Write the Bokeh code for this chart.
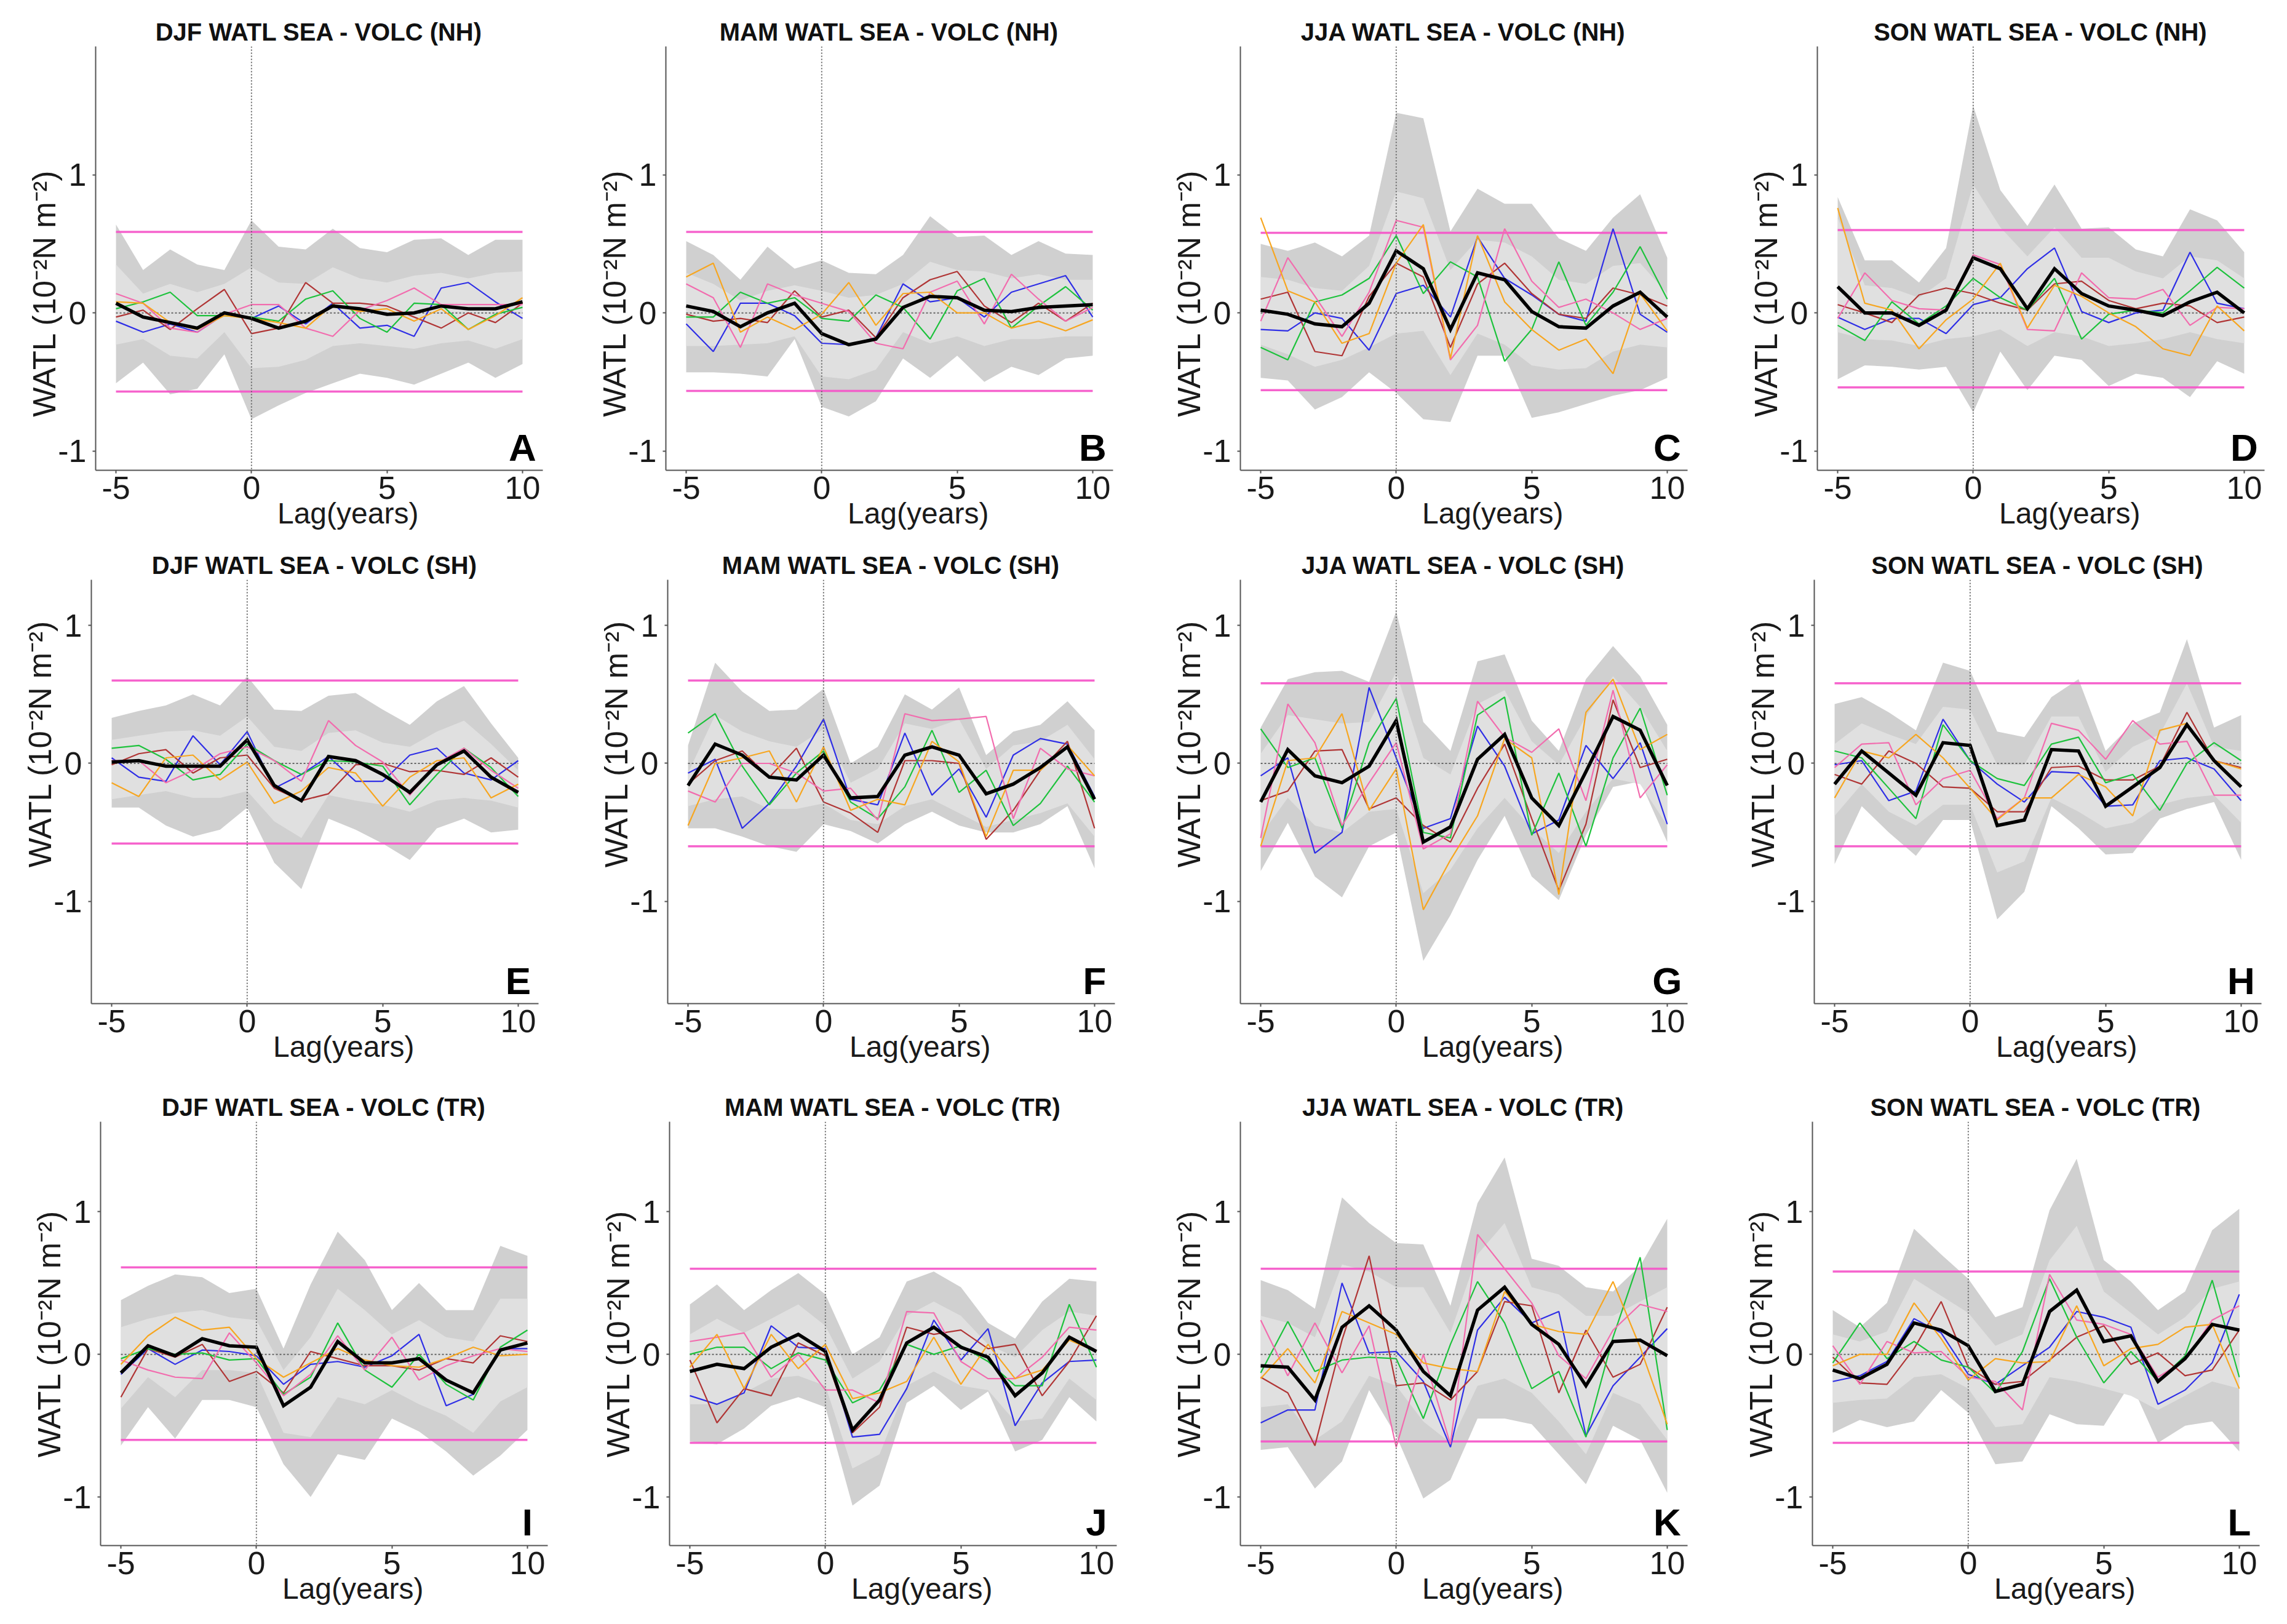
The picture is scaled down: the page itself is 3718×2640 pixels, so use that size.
from bokeh.plotting import figure
from bokeh.layouts import column, row
from bokeh.models import Span, Label, Range1d, FixedTicker
from bokeh.embed import file_html
from bokeh.resources import INLINE

LAGS = list(range(-5, 11))
X_TICKS = [-5, 0, 5, 10]
Y_TICKS = [-1, 0, 1]
X_TICK_LABELS = {-5: "-5", 0: "0", 5: "5", 10: "10"}
Y_TICK_LABELS = {-1: "-1", 0: "0", 1: "1"}
X_LABEL = "Lag(years)"
Y_LABEL = "WATL (10\u207b\u00b2N m\u207b\u00b2)"
X_LABEL_AT = 3.5     # lag under which the x title is centred in the original
Y_LABEL_AT = 0.14    # value beside which the y title is centred in the original

TITLES = ["DJF WATL SEA - VOLC (NH)", "MAM WATL SEA - VOLC (NH)", "JJA WATL SEA - VOLC (NH)", "SON WATL SEA - VOLC (NH)",
          "DJF WATL SEA - VOLC (SH)", "MAM WATL SEA - VOLC (SH)", "JJA WATL SEA - VOLC (SH)", "SON WATL SEA - VOLC (SH)",
          "DJF WATL SEA - VOLC (TR)", "MAM WATL SEA - VOLC (TR)", "JJA WATL SEA - VOLC (TR)", "SON WATL SEA - VOLC (TR)"]
LETTERS = ["A", "B", "C", "D", "E", "F", "G", "H", "I", "J", "K", "L"]
ROW_YRANGES = [(-1.14, 1.93), (-1.74, 1.33), (-1.34, 1.63)]

# ---------------- Panel A ----------------
A_OUT_HI = [0.64, 0.31, 0.46, 0.35, 0.31, 0.67, 0.48, 0.46, 0.61, 0.47, 0.44, 0.53, 0.54, 0.42, 0.53, 0.53]
A_IN_HI = [0.35, 0.14, 0.21, 0.15, 0.21, 0.33, 0.22, 0.21, 0.33, 0.25, 0.22, 0.27, 0.29, 0.25, 0.29, 0.30]
A_IN_LO = [-0.23, -0.19, -0.31, -0.33, -0.14, -0.40, -0.39, -0.34, -0.24, -0.22, -0.24, -0.26, -0.22, -0.20, -0.26, -0.19]
A_OUT_LO = [-0.51, -0.36, -0.59, -0.55, -0.30, -0.77, -0.67, -0.58, -0.51, -0.44, -0.47, -0.52, -0.44, -0.36, -0.47, -0.37]
A_MEAN = [0.07, -0.03, -0.07, -0.11, 0.0, -0.04, -0.11, -0.06, 0.05, 0.03, -0.01, 0.0, 0.05, 0.03, 0.03, 0.08]
A_BLUE = [-0.06, -0.14, -0.08, -0.14, -0.01, -0.04, 0.05, -0.08, 0.07, -0.11, -0.09, -0.17, 0.18, 0.22, 0.08, -0.04]
A_RED = [-0.03, 0.02, -0.12, 0.03, 0.17, -0.15, -0.11, 0.22, 0.07, 0.07, 0.05, -0.03, -0.11, 0.0, -0.07, 0.07]
A_GREEN = [0.03, 0.08, 0.15, -0.02, -0.02, -0.03, -0.06, 0.10, 0.16, -0.04, -0.14, 0.07, 0.06, -0.12, -0.01, 0.04]
A_PINK = [0.14, 0.07, -0.11, -0.14, -0.01, 0.06, 0.06, -0.11, -0.17, 0.02, 0.09, 0.18, 0.06, 0.06, 0.06, 0.06]
A_ORANGE = [0.08, 0.07, -0.07, -0.12, -0.02, -0.04, -0.07, -0.11, 0.06, 0.01, 0.03, -0.06, 0.03, -0.12, -0.02, 0.11]
A_THR = [0.587, -0.57]

# ---------------- Panel B ----------------
B_OUT_HI = [0.52, 0.42, 0.24, 0.48, 0.32, 0.38, 0.29, 0.28, 0.42, 0.70, 0.55, 0.56, 0.42, 0.52, 0.43, 0.42]
B_IN_HI = [0.29, 0.21, 0.09, 0.16, 0.20, 0.16, 0.11, 0.13, 0.21, 0.37, 0.31, 0.30, 0.25, 0.28, 0.24, 0.24]
B_IN_LO = [-0.24, -0.24, -0.23, -0.22, -0.17, -0.46, -0.48, -0.41, -0.14, -0.22, -0.17, -0.24, -0.19, -0.19, -0.17, -0.17]
B_OUT_LO = [-0.43, -0.43, -0.44, -0.46, -0.19, -0.68, -0.75, -0.64, -0.33, -0.47, -0.31, -0.50, -0.39, -0.45, -0.33, -0.31]
B_MEAN = [0.05, 0.01, -0.10, 0.0, 0.07, -0.15, -0.23, -0.19, 0.04, 0.12, 0.11, 0.02, 0.01, 0.04, 0.05, 0.06]
B_BLUE = [-0.08, -0.28, 0.07, 0.07, -0.02, -0.22, -0.23, -0.18, 0.21, 0.08, 0.11, -0.03, 0.15, 0.21, 0.27, -0.03]
B_RED = [-0.01, -0.06, -0.04, -0.07, 0.16, -0.03, 0.02, -0.18, 0.11, 0.24, 0.30, 0.05, -0.07, 0.07, -0.06, 0.07]
B_GREEN = [-0.03, -0.03, 0.15, 0.07, 0.11, -0.04, -0.06, 0.13, 0.04, -0.19, 0.16, 0.25, -0.11, 0.05, 0.19, 0.02]
B_PINK = [0.21, 0.11, -0.25, 0.21, 0.13, 0.07, 0.01, -0.22, -0.26, 0.15, 0.23, -0.08, 0.28, 0.10, -0.06, 0.04]
B_ORANGE = [0.26, 0.36, -0.14, -0.03, -0.12, -0.01, 0.22, -0.09, 0.14, 0.15, 0.0, 0.0, -0.11, -0.06, -0.13, -0.05]
B_THR = [0.587, -0.565]

# ---------------- Panel C ----------------
C_OUT_HI = [0.50, 0.45, 0.51, 0.41, 0.56, 1.45, 1.41, 0.59, 0.90, 0.79, 0.79, 0.54, 0.45, 0.69, 0.86, 0.40]
C_IN_HI = [0.26, 0.24, 0.18, 0.16, 0.34, 0.88, 0.83, 0.31, 0.53, 0.51, 0.41, 0.24, 0.21, 0.34, 0.36, 0.14]
C_IN_LO = [-0.23, -0.30, -0.39, -0.34, -0.25, -0.15, -0.13, -0.45, -0.15, -0.23, -0.38, -0.41, -0.40, -0.28, -0.23, -0.25]
C_OUT_LO = [-0.47, -0.49, -0.70, -0.61, -0.43, -0.58, -0.77, -0.79, -0.31, -0.31, -0.76, -0.72, -0.66, -0.60, -0.56, -0.47]
C_MEAN = [0.02, -0.01, -0.08, -0.10, 0.07, 0.45, 0.32, -0.12, 0.29, 0.24, 0.01, -0.10, -0.11, 0.05, 0.15, -0.03]
C_BLUE = [-0.12, -0.13, 0.0, -0.04, -0.27, 0.14, 0.20, -0.03, 0.55, 0.25, 0.13, -0.01, -0.06, 0.61, -0.01, -0.14]
C_RED = [0.10, 0.15, -0.28, -0.31, 0.12, 0.36, 0.26, -0.25, 0.21, 0.36, 0.14, -0.01, -0.04, 0.18, 0.13, 0.05]
C_GREEN = [-0.25, -0.34, 0.08, 0.13, 0.25, 0.56, 0.14, 0.37, 0.26, -0.35, -0.12, 0.37, -0.09, 0.15, 0.48, 0.10]
C_PINK = [-0.06, 0.40, 0.12, -0.17, 0.15, 0.67, 0.62, -0.34, -0.09, 0.61, 0.23, 0.04, 0.10, 0.0, -0.12, -0.04]
C_ORANGE = [0.69, 0.16, 0.08, -0.22, -0.15, 0.36, 0.64, -0.33, 0.56, 0.08, -0.12, -0.27, -0.19, -0.44, 0.14, -0.13]
C_THR = [0.58, -0.56]

# ---------------- Panel D ----------------
D_OUT_HI = [0.84, 0.38, 0.38, 0.22, 0.47, 1.50, 0.89, 0.63, 0.93, 0.61, 0.62, 0.46, 0.41, 0.75, 0.67, 0.44]
D_IN_HI = [0.69, 0.20, 0.18, 0.11, 0.25, 0.93, 0.62, 0.41, 0.62, 0.40, 0.40, 0.30, 0.25, 0.41, 0.38, 0.25]
D_IN_LO = [-0.14, -0.19, -0.20, -0.24, -0.19, -0.17, -0.12, -0.24, -0.14, -0.17, -0.24, -0.22, -0.19, -0.14, -0.19, -0.22]
D_OUT_LO = [-0.48, -0.38, -0.39, -0.41, -0.39, -0.72, -0.28, -0.56, -0.31, -0.34, -0.53, -0.44, -0.47, -0.61, -0.35, -0.44]
D_MEAN = [0.19, 0.0, 0.0, -0.09, 0.02, 0.40, 0.32, 0.03, 0.32, 0.14, 0.05, 0.02, -0.02, 0.08, 0.15, 0.0]
D_BLUE = [-0.03, -0.12, -0.04, -0.04, -0.15, 0.06, 0.11, 0.32, 0.47, 0.01, -0.07, 0.0, 0.02, 0.44, 0.07, 0.03]
D_RED = [0.06, 0.0, -0.07, 0.13, 0.18, 0.14, 0.07, 0.02, 0.21, 0.23, 0.09, 0.03, 0.07, 0.05, -0.07, -0.03]
D_GREEN = [-0.09, -0.20, 0.08, -0.08, 0.05, 0.25, 0.11, 0.02, 0.25, -0.19, -0.01, 0.02, 0.0, 0.16, 0.33, 0.18]
D_PINK = [-0.04, 0.29, 0.09, 0.03, 0.02, 0.42, 0.35, -0.12, -0.13, 0.29, 0.11, 0.10, 0.17, -0.09, 0.04, 0.03]
D_ORANGE = [0.76, 0.07, 0.02, -0.26, -0.05, 0.10, 0.36, -0.11, 0.20, 0.12, 0.0, -0.10, -0.26, -0.31, 0.05, -0.13]
D_THR = [0.60, -0.54]

# ---------------- Panel E ----------------
E_OUT_HI = [0.33, 0.38, 0.42, 0.50, 0.42, 0.63, 0.39, 0.38, 0.49, 0.51, 0.39, 0.28, 0.45, 0.56, 0.29, 0.04]
E_IN_HI = [0.17, 0.20, 0.23, 0.24, 0.20, 0.34, 0.12, 0.09, 0.22, 0.24, 0.15, 0.12, 0.23, 0.31, 0.14, -0.05]
E_IN_LO = [-0.26, -0.23, -0.20, -0.25, -0.25, -0.20, -0.42, -0.54, -0.23, -0.27, -0.30, -0.35, -0.27, -0.25, -0.27, -0.32]
E_OUT_LO = [-0.32, -0.32, -0.45, -0.53, -0.48, -0.32, -0.72, -0.91, -0.40, -0.48, -0.58, -0.70, -0.47, -0.40, -0.50, -0.48]
E_MEAN = [0.01, 0.02, -0.02, -0.02, -0.02, 0.17, -0.16, -0.27, 0.05, 0.02, -0.08, -0.21, -0.01, 0.09, -0.10, -0.21]
E_BLUE = [0.04, -0.10, -0.13, 0.20, -0.01, 0.23, -0.18, -0.08, 0.05, -0.13, -0.13, 0.06, 0.11, -0.07, -0.12, 0.02]
E_RED = [-0.01, 0.07, 0.10, -0.07, 0.04, 0.06, -0.18, -0.27, -0.22, -0.01, 0.0, -0.06, -0.05, -0.08, 0.04, -0.10]
E_GREEN = [0.11, 0.13, 0.03, -0.12, -0.08, 0.14, 0.02, -0.08, 0.02, 0.01, -0.02, -0.30, -0.08, 0.11, -0.03, -0.24]
E_PINK = [0.02, 0.02, -0.14, -0.05, 0.07, 0.12, 0.02, -0.13, 0.31, 0.13, 0.01, -0.23, 0.0, 0.11, -0.05, -0.18]
E_ORANGE = [-0.14, -0.24, 0.04, 0.06, -0.12, 0.01, -0.29, -0.20, -0.03, -0.07, -0.31, -0.10, 0.02, 0.04, -0.25, -0.15]
E_THR = [0.60, -0.58]

# ---------------- Panel F ----------------
F_OUT_HI = [0.13, 0.73, 0.52, 0.38, 0.39, 0.54, 0.0, 0.12, 0.50, 0.39, 0.55, 0.06, 0.23, 0.28, 0.45, 0.24]
F_IN_HI = [-0.07, 0.35, 0.23, 0.16, 0.12, 0.25, -0.14, -0.04, 0.29, 0.25, 0.32, -0.04, 0.13, 0.16, 0.28, 0.03]
F_IN_LO = [-0.31, -0.26, -0.24, -0.33, -0.33, -0.29, -0.41, -0.44, -0.31, -0.26, -0.36, -0.46, -0.41, -0.36, -0.29, -0.53]
F_OUT_LO = [-0.47, -0.47, -0.53, -0.60, -0.64, -0.44, -0.49, -0.58, -0.44, -0.35, -0.45, -0.50, -0.50, -0.44, -0.31, -0.76]
F_MEAN = [-0.16, 0.14, 0.06, -0.10, -0.12, 0.06, -0.25, -0.24, 0.06, 0.12, 0.06, -0.22, -0.15, -0.03, 0.12, -0.26]
F_BLUE = [-0.07, 0.03, -0.47, -0.29, -0.02, 0.32, -0.26, -0.30, 0.22, -0.23, -0.04, -0.39, 0.06, 0.18, 0.14, -0.24]
F_RED = [-0.15, 0.02, 0.09, -0.10, 0.11, -0.28, -0.36, -0.50, 0.02, 0.02, 0.0, -0.55, -0.34, -0.05, 0.16, -0.47]
F_GREEN = [0.22, 0.36, -0.02, -0.30, -0.07, 0.09, -0.28, -0.40, -0.17, 0.24, -0.21, -0.05, -0.45, -0.29, -0.02, -0.28]
F_PINK = [-0.20, -0.28, 0.0, 0.0, -0.07, -0.20, -0.18, -0.41, 0.36, 0.31, 0.32, 0.34, -0.40, 0.11, -0.04, -0.09]
F_ORANGE = [-0.45, 0.0, 0.04, 0.09, -0.28, 0.12, -0.34, -0.26, -0.30, 0.16, 0.01, -0.53, -0.05, -0.05, 0.13, -0.09]
F_THR = [0.60, -0.60]

# ---------------- Panel G ----------------
G_OUT_HI = [0.26, 0.61, 0.66, 0.67, 0.59, 1.10, 0.30, 0.09, 0.74, 0.79, 0.31, 0.09, 0.61, 0.85, 0.63, 0.28]
G_IN_HI = [0.07, 0.35, 0.32, 0.29, 0.30, 0.66, 0.04, -0.08, 0.43, 0.53, 0.16, -0.01, 0.34, 0.63, 0.41, 0.09]
G_IN_LO = [-0.52, -0.25, -0.45, -0.50, -0.35, -0.33, -0.94, -0.77, -0.47, -0.25, -0.47, -0.65, -0.35, -0.11, -0.15, -0.45]
G_OUT_LO = [-0.78, -0.43, -0.82, -0.97, -0.60, -0.50, -1.43, -1.10, -0.70, -0.38, -0.82, -0.99, -0.52, -0.17, -0.13, -0.57]
G_MEAN = [-0.28, 0.10, -0.09, -0.14, -0.02, 0.31, -0.57, -0.46, 0.03, 0.21, -0.25, -0.45, -0.06, 0.34, 0.24, -0.16]
G_BLUE = [-0.09, 0.04, -0.65, -0.50, 0.55, 0.04, -0.47, -0.40, 0.27, -0.02, -0.51, -0.41, 0.13, -0.11, 0.15, -0.44]
G_RED = [-0.27, -0.20, 0.09, 0.10, -0.33, -0.25, -0.45, -0.57, -0.18, 0.14, -0.40, -0.92, -0.44, 0.46, -0.03, 0.03]
G_GREEN = [0.25, -0.03, 0.04, -0.47, 0.15, 0.47, -0.50, -0.54, 0.35, 0.48, -0.52, -0.07, -0.60, 0.04, 0.40, -0.23]
G_PINK = [-0.54, 0.43, 0.15, -0.45, -0.14, 0.15, -0.62, -0.51, 0.45, 0.19, 0.08, 0.25, -0.27, 0.53, -0.25, -0.01]
G_ORANGE = [-0.60, 0.02, 0.04, 0.36, -0.34, -0.04, -1.06, -0.70, -0.38, 0.18, 0.04, -0.95, 0.37, 0.61, 0.10, 0.21]
G_THR = [0.58, -0.60]

# ---------------- Panel H ----------------
H_OUT_HI = [0.43, 0.48, 0.37, 0.24, 0.73, 0.67, 0.23, 0.19, 0.48, 0.61, 0.09, 0.29, 0.37, 0.90, 0.26, 0.35]
H_IN_HI = [0.14, 0.29, 0.21, 0.14, 0.41, 0.39, -0.01, -0.01, 0.34, 0.34, -0.06, 0.12, 0.21, 0.58, 0.12, 0.09]
H_IN_LO = [-0.38, -0.15, -0.35, -0.45, -0.30, -0.30, -0.79, -0.71, -0.25, -0.35, -0.47, -0.43, -0.30, -0.25, -0.23, -0.43]
H_OUT_LO = [-0.73, -0.31, -0.50, -0.67, -0.41, -0.41, -1.13, -0.93, -0.31, -0.47, -0.66, -0.65, -0.40, -0.33, -0.28, -0.70]
H_MEAN = [-0.15, 0.09, -0.07, -0.23, 0.15, 0.13, -0.45, -0.41, 0.10, 0.09, -0.31, -0.17, -0.03, 0.28, 0.02, -0.17]
H_BLUE = [-0.01, 0.02, -0.27, -0.20, 0.32, 0.02, -0.15, -0.28, -0.06, -0.07, -0.31, -0.30, 0.02, 0.04, -0.04, -0.27]
H_RED = [-0.08, -0.15, 0.09, 0.0, -0.17, -0.18, -0.35, -0.35, -0.03, -0.02, -0.12, -0.12, -0.02, 0.37, 0.02, -0.03]
H_GREEN = [0.09, 0.04, -0.18, -0.40, 0.28, 0.02, -0.11, -0.16, 0.14, 0.19, -0.14, -0.08, -0.34, 0.0, 0.15, 0.02]
H_PINK = [-0.03, 0.14, 0.15, -0.30, -0.11, -0.05, -0.40, -0.25, 0.29, 0.24, 0.03, 0.31, 0.14, 0.16, -0.23, -0.23]
H_ORANGE = [-0.25, 0.09, 0.04, 0.21, 0.04, -0.18, -0.41, -0.25, -0.25, -0.08, -0.17, -0.38, 0.24, 0.29, 0.02, -0.04]
H_THR = [0.58, -0.60]

# ---------------- Panel I ----------------
I_OUT_HI = [0.38, 0.48, 0.56, 0.54, 0.43, 0.46, 0.04, 0.49, 0.86, 0.66, 0.31, 0.50, 0.31, 0.31, 0.76, 0.69]
I_IN_HI = [0.19, 0.25, 0.29, 0.31, 0.26, 0.24, -0.11, 0.12, 0.46, 0.31, 0.14, 0.24, 0.12, 0.09, 0.39, 0.39]
I_IN_LO = [-0.38, -0.16, -0.30, -0.11, -0.11, -0.13, -0.55, -0.58, -0.30, -0.35, -0.25, -0.35, -0.43, -0.55, -0.33, -0.23]
I_OUT_LO = [-0.64, -0.37, -0.59, -0.32, -0.32, -0.37, -0.77, -1.0, -0.70, -0.74, -0.45, -0.54, -0.68, -0.85, -0.71, -0.53]
I_MEAN = [-0.13, 0.06, -0.01, 0.11, 0.06, 0.05, -0.36, -0.23, 0.09, -0.06, -0.06, -0.03, -0.18, -0.27, 0.03, 0.08]
I_BLUE = [-0.14, 0.04, -0.07, 0.03, 0.02, -0.01, -0.21, -0.07, -0.05, -0.09, -0.01, 0.14, -0.36, -0.28, 0.04, 0.04]
I_RED = [-0.30, 0.04, -0.02, 0.07, -0.19, -0.12, -0.27, 0.02, -0.03, -0.08, -0.08, -0.11, -0.03, -0.06, 0.13, 0.09]
I_GREEN = [-0.03, 0.04, 0.0, 0.01, -0.04, -0.03, -0.28, -0.16, 0.22, -0.11, -0.23, 0.0, -0.21, -0.32, 0.05, 0.17]
I_PINK = [-0.04, -0.11, -0.16, -0.17, 0.15, -0.06, -0.29, -0.14, 0.13, -0.11, 0.12, -0.18, -0.08, -0.01, 0.04, 0.02]
I_ORANGE = [-0.07, 0.13, 0.26, 0.17, 0.19, -0.03, -0.16, -0.06, 0.04, -0.04, -0.08, -0.09, -0.03, 0.05, -0.01, 0.0]
I_THR = [0.61, -0.60]

# ---------------- Panel J ----------------
J_OUT_HI = [0.35, 0.49, 0.31, 0.45, 0.57, 0.42, 0.0, 0.12, 0.51, 0.58, 0.47, 0.22, 0.11, 0.37, 0.53, 0.51]
J_IN_HI = [0.14, 0.25, 0.15, 0.25, 0.35, 0.20, -0.17, -0.05, 0.27, 0.37, 0.27, 0.07, -0.02, 0.17, 0.30, 0.27]
J_IN_LO = [-0.35, -0.35, -0.27, -0.17, -0.15, -0.22, -0.80, -0.70, -0.22, -0.12, -0.22, -0.25, -0.47, -0.45, -0.17, -0.32]
J_OUT_LO = [-0.61, -0.63, -0.52, -0.36, -0.30, -0.37, -1.06, -0.92, -0.34, -0.22, -0.39, -0.26, -0.68, -0.60, -0.30, -0.47]
J_MEAN = [-0.12, -0.07, -0.10, 0.05, 0.14, 0.02, -0.53, -0.32, 0.08, 0.19, 0.05, -0.02, -0.29, -0.13, 0.12, 0.02]
J_BLUE = [-0.29, -0.35, -0.27, 0.20, 0.05, 0.04, -0.58, -0.56, -0.24, 0.24, -0.04, 0.18, -0.50, -0.20, -0.05, -0.04]
J_RED = [-0.04, -0.48, -0.24, -0.29, 0.08, -0.01, -0.55, -0.37, 0.19, 0.14, 0.17, 0.04, 0.07, -0.29, -0.05, 0.27]
J_GREEN = [0.0, 0.05, 0.05, -0.10, 0.01, -0.04, -0.34, -0.25, 0.07, 0.0, 0.06, -0.05, -0.22, -0.22, 0.35, -0.09]
J_PINK = [0.09, 0.12, 0.15, -0.16, 0.0, -0.25, -0.25, -0.34, 0.30, 0.29, -0.05, -0.17, -0.17, -0.02, 0.19, 0.17]
J_ORANGE = [-0.09, 0.14, -0.24, 0.14, -0.10, 0.07, -0.31, -0.27, -0.19, 0.12, -0.21, 0.07, -0.17, -0.11, 0.10, 0.02]
J_THR = [0.60, -0.62]

# ---------------- Panel K ----------------
K_OUT_HI = [0.52, 0.45, 0.32, 1.10, 0.92, 0.78, 0.77, 0.34, 1.06, 1.38, 0.67, 0.62, 0.47, 0.44, 0.62, 0.95]
K_IN_HI = [0.27, 0.22, 0.12, 0.63, 0.58, 0.47, 0.47, 0.15, 0.70, 0.92, 0.47, 0.42, 0.27, 0.27, 0.37, 0.47]
K_IN_LO = [-0.37, -0.35, -0.60, -0.47, -0.15, -0.22, -0.47, -0.62, -0.22, -0.17, -0.27, -0.47, -0.70, -0.27, -0.35, -0.60]
K_OUT_LO = [-0.67, -0.65, -0.94, -0.75, -0.25, -0.57, -1.01, -0.88, -0.45, -0.45, -0.49, -0.70, -0.91, -0.50, -0.60, -0.97]
K_MEAN = [-0.08, -0.09, -0.32, 0.19, 0.34, 0.17, -0.12, -0.29, 0.31, 0.47, 0.21, 0.07, -0.22, 0.09, 0.10, -0.01]
K_BLUE = [-0.48, -0.39, -0.39, 0.50, 0.01, 0.02, -0.19, -0.65, 0.17, 0.40, 0.22, 0.30, -0.57, -0.22, -0.02, 0.18]
K_RED = [-0.16, -0.27, -0.64, 0.10, 0.69, -0.22, -0.20, -0.32, -0.12, 0.37, 0.34, -0.27, 0.17, -0.16, -0.07, 0.33]
K_GREEN = [-0.13, 0.23, -0.12, -0.04, -0.02, -0.03, -0.45, 0.07, 0.51, 0.22, -0.24, -0.12, -0.58, 0.12, 0.68, -0.53]
K_PINK = [0.24, -0.15, 0.22, -0.13, 0.20, -0.65, 0.0, -0.63, 0.84, 0.60, 0.36, -0.01, -0.17, 0.17, 0.35, 0.30]
K_ORANGE = [-0.17, 0.04, -0.20, 0.30, 0.22, 0.14, -0.06, -0.10, -0.12, 0.44, 0.21, 0.16, 0.14, 0.51, 0.05, -0.49]
K_THR = [0.60, -0.61]

# ---------------- Panel L ----------------
L_OUT_HI = [0.31, 0.19, 0.36, 0.88, 0.70, 0.53, 0.26, 0.33, 1.01, 1.37, 0.66, 0.51, 0.31, 0.44, 0.87, 1.02]
L_IN_HI = [0.14, 0.09, 0.16, 0.53, 0.41, 0.29, 0.06, 0.14, 0.66, 0.90, 0.44, 0.29, 0.14, 0.26, 0.46, 0.51]
L_IN_LO = [-0.34, -0.32, -0.31, -0.16, -0.14, -0.24, -0.51, -0.49, -0.16, -0.19, -0.24, -0.29, -0.39, -0.29, -0.19, -0.24]
L_OUT_LO = [-0.55, -0.46, -0.51, -0.47, -0.25, -0.41, -0.77, -0.75, -0.42, -0.49, -0.50, -0.20, -0.62, -0.50, -0.47, -0.68]
L_MEAN = [-0.11, -0.17, -0.07, 0.22, 0.17, 0.06, -0.26, -0.21, 0.30, 0.45, 0.09, 0.13, -0.19, -0.03, 0.21, 0.17]
L_BLUE = [-0.19, -0.15, -0.05, 0.25, 0.15, -0.14, -0.21, -0.08, 0.05, 0.30, 0.26, 0.19, -0.35, -0.25, -0.06, 0.42]
L_RED = [-0.02, -0.20, -0.21, 0.04, 0.37, -0.09, -0.21, -0.19, -0.04, 0.12, 0.20, -0.07, 0.01, -0.15, -0.11, 0.17]
L_GREEN = [-0.06, 0.22, -0.03, 0.09, -0.04, -0.09, -0.27, 0.02, 0.53, 0.12, -0.20, 0.02, -0.19, -0.01, 0.52, -0.16]
L_PINK = [0.06, -0.21, 0.09, 0.01, 0.02, -0.16, -0.19, -0.39, 0.56, 0.24, 0.21, 0.14, -0.16, -0.04, 0.24, 0.34]
L_ORANGE = [-0.08, 0.0, 0.0, 0.36, 0.11, -0.18, -0.03, -0.06, -0.05, 0.34, -0.08, 0.04, 0.07, 0.19, 0.21, -0.24]
L_THR = [0.58, -0.62]

PANEL_DATA = [
    (A_OUT_HI, A_OUT_LO, A_IN_HI, A_IN_LO, A_MEAN, A_BLUE, A_RED, A_GREEN, A_PINK, A_ORANGE, A_THR),
    (B_OUT_HI, B_OUT_LO, B_IN_HI, B_IN_LO, B_MEAN, B_BLUE, B_RED, B_GREEN, B_PINK, B_ORANGE, B_THR),
    (C_OUT_HI, C_OUT_LO, C_IN_HI, C_IN_LO, C_MEAN, C_BLUE, C_RED, C_GREEN, C_PINK, C_ORANGE, C_THR),
    (D_OUT_HI, D_OUT_LO, D_IN_HI, D_IN_LO, D_MEAN, D_BLUE, D_RED, D_GREEN, D_PINK, D_ORANGE, D_THR),
    (E_OUT_HI, E_OUT_LO, E_IN_HI, E_IN_LO, E_MEAN, E_BLUE, E_RED, E_GREEN, E_PINK, E_ORANGE, E_THR),
    (F_OUT_HI, F_OUT_LO, F_IN_HI, F_IN_LO, F_MEAN, F_BLUE, F_RED, F_GREEN, F_PINK, F_ORANGE, F_THR),
    (G_OUT_HI, G_OUT_LO, G_IN_HI, G_IN_LO, G_MEAN, G_BLUE, G_RED, G_GREEN, G_PINK, G_ORANGE, G_THR),
    (H_OUT_HI, H_OUT_LO, H_IN_HI, H_IN_LO, H_MEAN, H_BLUE, H_RED, H_GREEN, H_PINK, H_ORANGE, H_THR),
    (I_OUT_HI, I_OUT_LO, I_IN_HI, I_IN_LO, I_MEAN, I_BLUE, I_RED, I_GREEN, I_PINK, I_ORANGE, I_THR),
    (J_OUT_HI, J_OUT_LO, J_IN_HI, J_IN_LO, J_MEAN, J_BLUE, J_RED, J_GREEN, J_PINK, J_ORANGE, J_THR),
    (K_OUT_HI, K_OUT_LO, K_IN_HI, K_IN_LO, K_MEAN, K_BLUE, K_RED, K_GREEN, K_PINK, K_ORANGE, K_THR),
    (L_OUT_HI, L_OUT_LO, L_IN_HI, L_IN_LO, L_MEAN, L_BLUE, L_RED, L_GREEN, L_PINK, L_ORANGE, L_THR),
]

# ---------------- styling / layout ----------------
FONT = "Liberation Sans"
COL_OUTER = "#D0D0D0"
COL_INNER = "#E0E0E0"
COL_THR = "#F552C8"
SERIES_COLORS = ["#2E2EE6", "#B03535", "#1DC23C", "#F26CAE", "#F7A620"]
FRAME_W = 727
FRAME_H = 689
ROW_TOP = [75, 75, 81]
ROW_H = [867, 875, 882]
ROW_FRAME_LEFT = [[163, 1090, 2024, 2962], [156, 1093, 2024, 2957], [171, 1096, 2024, 2954]]
PAGE_RIGHT = 3710
X_RANGE = (-5.75, 10.75)
XLAB_PX = 48
YLAB_PX = 51
NBSP = "\u00a0"
NBSP_EM = 0.2778


def padded_x_label():
    # shift the centred title so its middle sits under X_LABEL_AT
    shift_px = (X_LABEL_AT - (X_RANGE[0] + X_RANGE[1]) / 2) * FRAME_W / (X_RANGE[1] - X_RANGE[0])
    n = int(round(2 * abs(shift_px) / (NBSP_EM * XLAB_PX)))
    return NBSP * n + X_LABEL if shift_px > 0 else X_LABEL + NBSP * n


def padded_y_label(ylo, yhi):
    shift_px = ((ylo + yhi) / 2 - Y_LABEL_AT) * FRAME_H / (yhi - ylo)   # >0 : move down
    n = int(round(2 * abs(shift_px) / (NBSP_EM * YLAB_PX)))
    return Y_LABEL + NBSP * n if shift_px > 0 else NBSP * n + Y_LABEL


def make_panel(idx, width, bl, br, bt, height):
    r = idx // 4
    ylo, yhi = ROW_YRANGES[r]
    out_hi, out_lo, in_hi, in_lo, mean, blue, red, green, pink, orange, thr = PANEL_DATA[idx]
    p = figure(width=width, height=height, x_range=Range1d(*X_RANGE), y_range=Range1d(ylo, yhi),
               output_backend="svg", toolbar_location=None, title=TITLES[idx],
               min_border_left=bl, min_border_right=br, min_border_top=bt,
               min_border_bottom=height - bt - FRAME_H)
    p.outline_line_color = None
    p.background_fill_color = "white"
    p.border_fill_color = "white"
    p.xgrid.visible = False
    p.ygrid.visible = False
    p.title.text_font = FONT
    p.title.text_font_size = "40px"
    p.title.text_font_style = "bold"
    p.title.text_color = "#111111"
    p.title.align = "center"
    p.title.standoff = 3

    for ax in (p.xaxis[0], p.yaxis[0]):
        ax.axis_line_color = "#555555"
        ax.axis_line_width = 2
        ax.major_tick_line_color = "#555555"
        ax.major_tick_line_width = 2
        ax.major_tick_out = 5
        ax.major_tick_in = 0
        ax.minor_tick_line_color = None
        ax.major_label_text_font = FONT
        ax.major_label_text_font_size = "52px"
        ax.major_label_text_color = "#1A1A1A"
        ax.axis_label_text_font = FONT
        ax.axis_label_text_font_style = "normal"
        ax.axis_label_text_color = "#1A1A1A"
    p.xaxis[0].ticker = FixedTicker(ticks=X_TICKS)
    p.yaxis[0].ticker = FixedTicker(ticks=Y_TICKS)
    p.xaxis[0].major_label_overrides = X_TICK_LABELS
    p.yaxis[0].major_label_overrides = Y_TICK_LABELS
    p.xaxis[0].major_label_standoff = 5
    p.xaxis[0].axis_label = padded_x_label()
    p.xaxis[0].axis_label_text_font_size = f"{XLAB_PX}px"
    p.xaxis[0].axis_label_standoff = -6
    p.yaxis[0].major_label_standoff = 10
    p.yaxis[0].axis_label = padded_y_label(ylo, yhi)
    p.yaxis[0].axis_label_text_font_size = f"{YLAB_PX}px"
    p.yaxis[0].axis_label_standoff = -10

    # bands
    p.varea(x=LAGS, y1=out_lo, y2=out_hi, fill_color=COL_OUTER, fill_alpha=1.0)
    p.varea(x=LAGS, y1=in_lo, y2=in_hi, fill_color=COL_INNER, fill_alpha=1.0)
    # reference lines
    p.segment(x0=[LAGS[0]] * 2, x1=[LAGS[-1]] * 2, y0=thr, y1=thr,
              line_color=COL_THR, line_width=3.5, line_alpha=0.9)
    p.add_layout(Span(location=0, dimension="height", line_color="#666666",
                      line_width=2, line_dash="2 3"))
    p.segment(x0=[LAGS[0]], x1=[LAGS[-1]], y0=[0], y1=[0], line_color="#666666",
              line_width=2, line_dash="3 3")
    # member lines
    for ys, c in zip([blue, red, green, pink, orange], SERIES_COLORS):
        p.line(LAGS, ys, line_color=c, line_width=2.2)
    p.line(LAGS, mean, line_color="black", line_width=5.5, line_join="miter")
    # panel letter
    p.add_layout(Label(x=10, y=ylo + 0.165, text=LETTERS[idx], text_align="center",
                       text_baseline="middle", text_font=FONT, text_font_size="62px",
                       text_font_style="bold", text_color="black"))
    return p


rows = []
for r in range(3):
    lefts = ROW_FRAME_LEFT[r]
    starts = [8] + [fl - 155 for fl in lefts[1:]]
    ends = starts[1:] + [PAGE_RIGHT]
    figs = []
    for c in range(4):
        w = ends[c] - starts[c]
        bl = lefts[c] - starts[c]
        br = w - bl - FRAME_W
        figs.append(make_panel(r * 4 + c, w, bl, br, ROW_TOP[r], ROW_H[r]))
    rows.append(row(*figs, spacing=0))

layout = column(*rows, spacing=0)
open("out.html", "w").write(file_html(layout, INLINE, title="WATL SEA"))
